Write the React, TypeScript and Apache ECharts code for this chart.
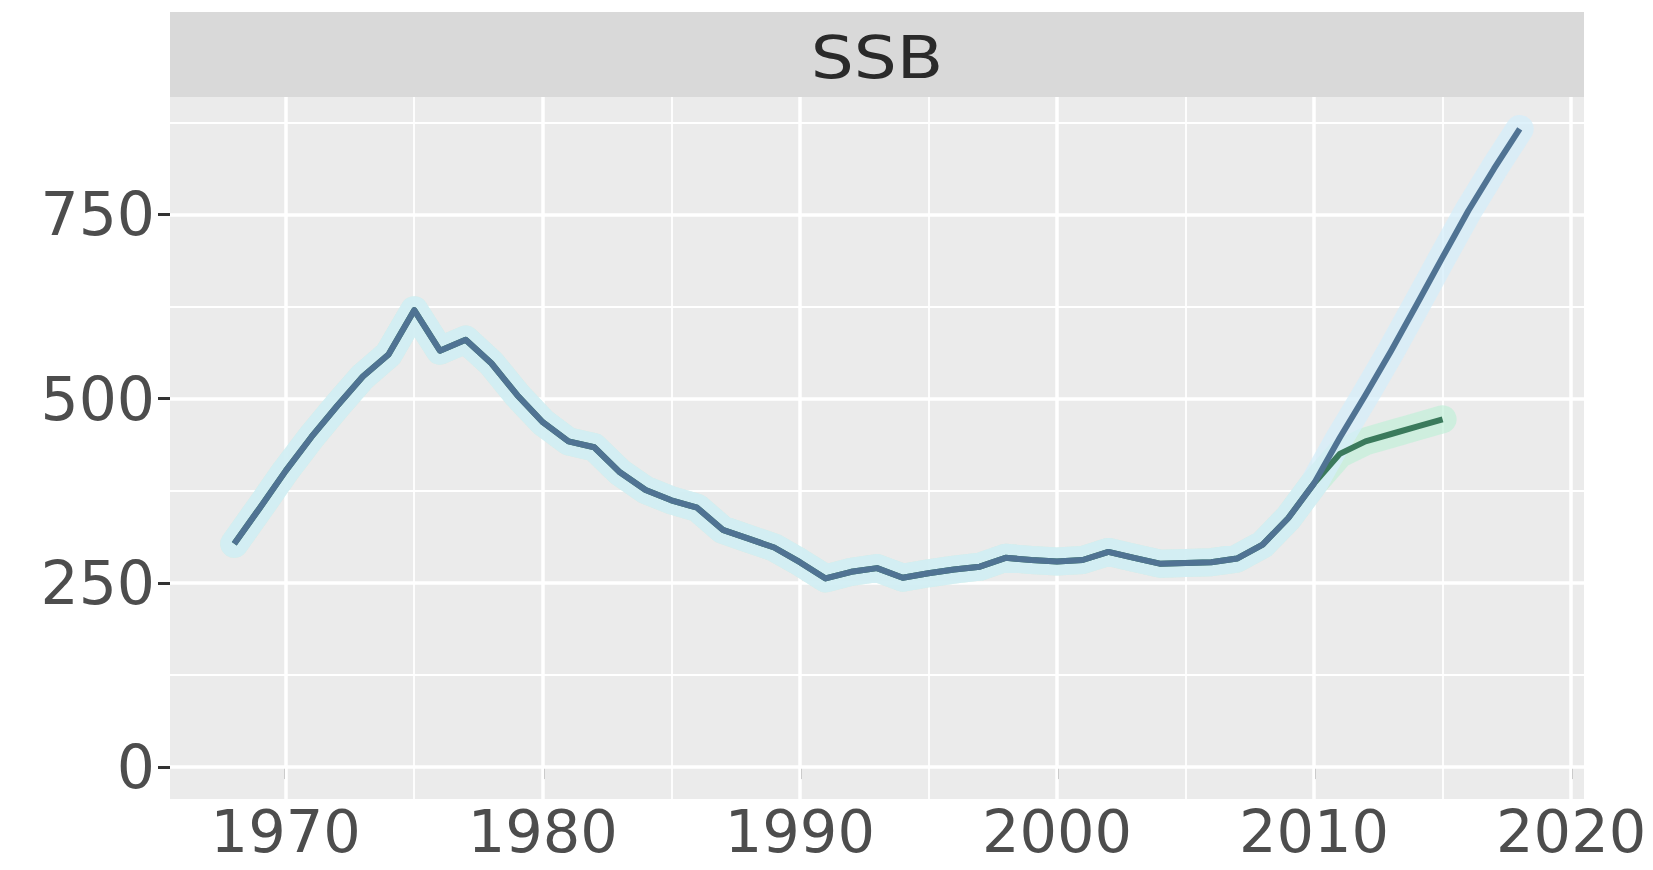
import React, { useEffect, useRef } from "react";
import * as echarts from "echarts";

const panelTitle = "SSB";

const years = [
  1968, 1969, 1970, 1971, 1972, 1973, 1974, 1975, 1976, 1977,
  1978, 1979, 1980, 1981, 1982, 1983, 1984, 1985, 1986, 1987,
  1988, 1989, 1990, 1991, 1992, 1993, 1994, 1995, 1996, 1997,
  1998, 1999, 2000, 2001, 2002, 2003, 2004, 2005, 2006, 2007,
  2008, 2009, 2010, 2011, 2012, 2013, 2014, 2015, 2016, 2017, 2018,
];
const ssbBlue = [
  303, 352, 402, 448, 490, 530, 560, 620, 565, 580,
  548, 505, 468, 442, 434, 400, 376, 362, 352, 322,
  310, 298, 278, 256, 265, 270, 257, 263, 268, 272,
  284, 281, 279, 281, 292, 284, 276, 277, 278, 283,
  302, 338, 385, 447, 505, 565, 628, 692, 755, 812, 866,
];

const greenYears = [
  1968, 1969, 1970, 1971, 1972, 1973, 1974, 1975, 1976, 1977,
  1978, 1979, 1980, 1981, 1982, 1983, 1984, 1985, 1986, 1987,
  1988, 1989, 1990, 1991, 1992, 1993, 1994, 1995, 1996, 1997,
  1998, 1999, 2000, 2001, 2002, 2003, 2004, 2005, 2006, 2007,
  2008, 2009, 2010, 2011, 2012, 2013, 2014, 2015,
];
const ssbGreen = [
  303, 352, 402, 448, 490, 530, 560, 620, 565, 580,
  548, 505, 468, 442, 434, 400, 376, 362, 352, 322,
  310, 298, 278, 256, 265, 270, 257, 263, 268, 272,
  284, 281, 279, 281, 292, 284, 276, 277, 278, 283,
  302, 338, 385, 425, 442, 452, 462, 472,
];

const xTicks = [1970, 1980, 1990, 2000, 2010, 2020];
const xMinor = [1975, 1985, 1995, 2005, 2015];
const yTicks = [0, 250, 500, 750];
const yMinor = [125, 375, 625, 875];

const FONT = "'DejaVu Sans', Verdana, sans-serif";

export default function App() {
  const ref = useRef<HTMLDivElement>(null);

  useEffect(() => {
    if (!ref.current) return;
    const chart = echarts.init(ref.current, undefined, { renderer: "svg" });

    const blueData = years.map((y, i) => [y, ssbBlue[i]]);
    const greenData = greenYears.map((y, i) => [y, ssbGreen[i]]);

    const gridLines = [
      ...xTicks.map((v) => ({ xAxis: v, lineStyle: { width: 3.5 } })),
      ...xMinor.map((v) => ({ xAxis: v, lineStyle: { width: 1.8 } })),
      ...yTicks.map((v) => ({ yAxis: v, lineStyle: { width: 3.5 } })),
      ...yMinor.map((v) => ({ yAxis: v, lineStyle: { width: 1.8 } })),
    ];

    const option: any = {
      animation: false,
      backgroundColor: "#ffffff",
      grid: {
        left: 170,
        top: 97,
        width: 1414,
        height: 702,
        show: true,
        backgroundColor: "#EBEBEB",
        borderWidth: 0,
        containLabel: false,
        outerBoundsMode: "none",
      },
      xAxis: {
        type: "value",
        min: 1965.5,
        max: 2020.5,
        axisLine: { show: false },
        splitLine: { show: false },
        axisTick: {
          show: true,
          length: 12,
          customValues: xTicks,
          lineStyle: { color: "#333333", width: 3 },
        },
        axisLabel: {
          customValues: xTicks,
          formatter: (v: number) => String(v),
          fontSize: 59,
          color: "#4D4D4D",
          fontFamily: FONT,
          margin: 3,
        },
      },
      yAxis: {
        type: "value",
        min: -43.3,
        max: 909.3,
        axisLine: { show: false },
        splitLine: { show: false },
        axisTick: {
          show: true,
          length: 12,
          customValues: yTicks,
          lineStyle: { color: "#333333", width: 3 },
        },
        axisLabel: {
          customValues: yTicks,
          formatter: (v: number) => String(v),
          fontSize: 60,
          color: "#4D4D4D",
          fontFamily: FONT,
          margin: 15,
        },
      },
      graphic: [
        {
          type: "rect",
          shape: { x: 170, y: 12, width: 1414, height: 85 },
          style: { fill: "#D9D9D9" },
          silent: true,
        },
        {
          type: "text",
          x: 877,
          y: 58,
          scaleX: 1.15,
          style: {
            text: panelTitle,
            fontSize: 59,
            fontFamily: FONT,
            fill: "#2A2A2A",
            textAlign: "center",
            textVerticalAlign: "middle",
          },
          silent: true,
        },
      ],
      series: [
        {
          type: "line",
          data: [],
          z: 1,
          silent: true,
          markLine: {
            silent: true,
            z: 1,
            symbol: ["none", "none"],
            label: { show: false },
            lineStyle: { color: "#FFFFFF", type: "solid" },
            data: gridLines,
          },
        },
        {
          type: "line",
          data: greenData,
          z: 2,
          silent: true,
          showSymbol: false,
          lineStyle: { color: "#C2F0D8", width: 28, opacity: 0.7, join: "round", cap: "round" },
        },
        {
          type: "line",
          data: blueData,
          z: 2,
          silent: true,
          showSymbol: false,
          lineStyle: { color: "#D4EEFA", width: 28, opacity: 0.75, join: "round", cap: "round" },
        },
        {
          type: "line",
          data: greenData,
          z: 3,
          showSymbol: false,
          lineStyle: { color: "#3B7A5C", width: 6, join: "round" },
        },
        {
          type: "line",
          data: blueData,
          z: 4,
          showSymbol: false,
          lineStyle: { color: "#507393", width: 6, join: "round" },
        },
      ],
    };

    chart.setOption(option);
    return () => chart.dispose();
  }, []);

  return (
    <div
      ref={ref}
      style={{ position: "fixed", left: 0, top: 0, width: 1653, height: 870, background: "#fff" }}
    />
  );
}
